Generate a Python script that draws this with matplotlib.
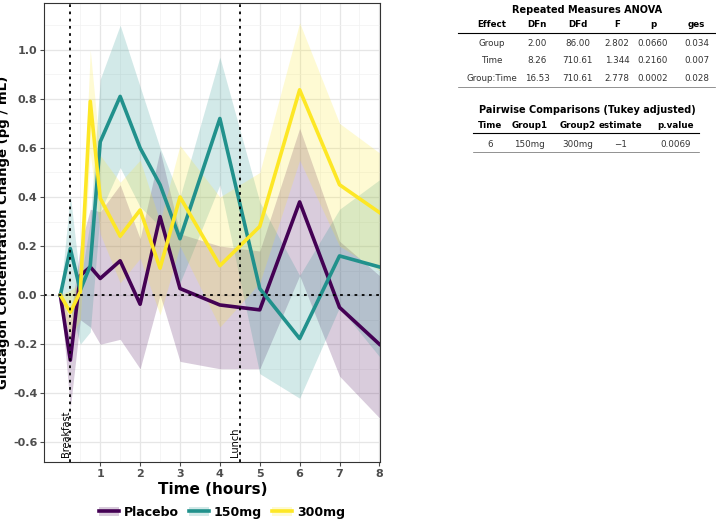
import matplotlib.pyplot as plt
from matplotlib.patches import Patch
from matplotlib.lines import Line2D

time = [0, 0.25, 0.5, 0.75, 1, 1.5, 2, 2.5, 3, 4, 5, 6, 7, 8]
groups = ['Placebo', '150mg', '300mg']
colors = ['#440154', '#21918c', '#fde725']

mean = {
    'Placebo': [0, -0.265, 0.08, 0.115, 0.068, 0.14, -0.037, 0.32, 0.027, -0.04, -0.06, 0.38, -0.05, -0.2],
    '150mg': [0, 0.19, 0.02, 0.12, 0.625, 0.81, 0.6, 0.45, 0.23, 0.72, 0.027, -0.177, 0.16, 0.115],
    '300mg': [0, -0.07, 0.014, 0.79, 0.395, 0.24, 0.347, 0.11, 0.4, 0.12, 0.28, 0.837, 0.45, 0.337],
}
upper = {
    'Placebo': [0, -0.1, 0.2, 0.35, 0.34, 0.45, 0.23, 0.59, 0.25, 0.2, 0.18, 0.68, 0.22, 0.08],
    '150mg': [0, 0.41, 0.05, 0.3, 0.88, 1.1, 0.85, 0.6, 0.4, 0.97, 0.38, 0.08, 0.35, 0.47],
    '300mg': [0, 0.02, 0.05, 1.0, 0.57, 0.46, 0.55, 0.3, 0.61, 0.4, 0.5, 1.11, 0.7, 0.58],
}
lower = {
    'Placebo': [0, -0.46, -0.1, -0.13, -0.2, -0.18, -0.3, 0.0, -0.27, -0.3, -0.3, 0.08, -0.33, -0.5],
    '150mg': [0, -0.05, -0.2, -0.15, 0.34, 0.52, 0.36, 0.28, 0.05, 0.45, -0.32, -0.42, -0.05, -0.25],
    '300mg': [0, -0.18, -0.1, 0.58, 0.25, 0.05, 0.15, -0.08, 0.2, -0.13, 0.05, 0.55, 0.2, 0.1],
}

anova_cols = ['Effect', 'DFn', 'DFd', 'F', 'p', 'ges']
anova_rows = [
    ['Group', '2.00', '86.00', '2.802', '0.0660', '0.034'],
    ['Time', '8.26', '710.61', '1.344', '0.2160', '0.007'],
    ['Group:Time', '16.53', '710.61', '2.778', '0.0002', '0.028'],
]
pair_cols = ['Time', 'Group1', 'Group2', 'estimate', 'p.value']
pair_rows = [['6', '150mg', '300mg', '\u22121', '0.0069']]

fig = plt.figure(figsize=(7.16, 5.28), dpi=100)
ax = fig.add_axes([0.062, 0.125, 0.469, 0.869])

for g, c in zip(groups, colors):
    ax.fill_between(time, lower[g], upper[g], color=c, alpha=0.2, lw=0)
for g, c in zip(groups, colors):
    ax.plot(time, mean[g], color=c, lw=2.6, label=g)

ax.axhline(0, color='black', ls=(0, (1.5, 2.5)), lw=1.3)
ax.axvline(0.25, color='black', ls=(0, (1.5, 2.5)), lw=1.3)
ax.axvline(4.5, color='black', ls=(0, (1.5, 2.5)), lw=1.3)
ax.text(0.13, -0.66, 'Breakfast', rotation=90, fontsize=7, va='bottom', ha='center')
ax.text(4.38, -0.66, 'Lunch', rotation=90, fontsize=7, va='bottom', ha='center')

ax.set_xlim(-0.4, 8.02)
ax.set_ylim(-0.68, 1.19)
ax.set_xticks(range(1, 9))
ax.set_xticks([0.5 + i for i in range(8)], minor=True)
ax.set_yticks([-0.6, -0.4, -0.2, 0, 0.2, 0.4, 0.6, 0.8, 1.0])
ax.set_yticks([-0.5, -0.3, -0.1, 0.1, 0.3, 0.5, 0.7, 0.9, 1.1], minor=True)
ax.set_yticklabels(['-0.6', '-0.4', '-0.2', '0.0', '0.2', '0.4', '0.6', '0.8', '1.0'])
ax.grid(which='major', color='#e6e6e6', lw=0.9)
ax.grid(which='minor', color='#f2f2f2', lw=0.5)
ax.set_axisbelow(True)
ax.tick_params(which='minor', length=0)
ax.tick_params(labelsize=8, colors='#4d4d4d', length=3, pad=2)
for lab in ax.get_xticklabels() + ax.get_yticklabels():
    lab.set_fontweight('bold')
for s in ax.spines.values():
    s.set_color('#333333')
ax.set_xlabel('Time (hours)', fontsize=11, fontweight='bold', labelpad=2)
ax.set_ylabel('Glucagon Concentration Change (pg / mL)', fontsize=9.5, fontweight='bold', labelpad=2)

handles = [(Patch(facecolor=c, alpha=0.2), Line2D([], [], color=c, lw=2.6)) for c in colors]
fig.legend(handles, groups, loc='center', bbox_to_anchor=(0.31, 0.03), ncol=3,
           frameon=False, prop={'weight': 'bold', 'size': 9}, handlelength=1.6,
           columnspacing=0.8, handletextpad=0.4)

# ANOVA table
fs = 6.3
ax_x = [0.687, 0.75, 0.807, 0.862, 0.912, 0.973]
fig.text(0.82, 0.981, 'Repeated Measures ANOVA', ha='center', va='center', fontsize=7, fontweight='bold')
for x, col in zip(ax_x, anova_cols):
    fig.text(x, 0.953, col, ha='center', va='center', fontsize=fs, fontweight='bold')
fig.add_artist(Line2D([0.64, 0.998], [0.9375, 0.9375], color='black', lw=0.8))
for i, row in enumerate(anova_rows):
    for x, v in zip(ax_x, row):
        fig.text(x, 0.917 - i * 0.0325, v, ha='center', va='center', fontsize=fs, color='#333333')
fig.add_artist(Line2D([0.64, 0.998], [0.835, 0.835], color='black', lw=0.5, alpha=0.6))

# pairwise table
px = [0.684, 0.74, 0.807, 0.866, 0.943]
fig.text(0.82, 0.792, 'Pairwise Comparisons (Tukey adjusted)', ha='center', va='center', fontsize=7, fontweight='bold')
for x, col in zip(px, pair_cols):
    fig.text(x, 0.763, col, ha='center', va='center', fontsize=fs, fontweight='bold')
fig.add_artist(Line2D([0.66, 0.976], [0.748, 0.748], color='black', lw=0.8))
for x, v in zip(px, pair_rows[0]):
    fig.text(x, 0.727, v, ha='center', va='center', fontsize=fs, color='#333333')
fig.add_artist(Line2D([0.66, 0.976], [0.712, 0.712], color='black', lw=0.5, alpha=0.6))

fig.savefig('out.png', dpi=100)
